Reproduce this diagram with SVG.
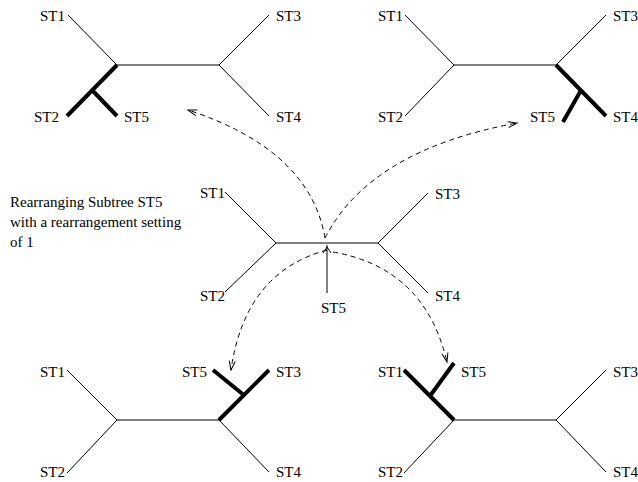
<svg xmlns="http://www.w3.org/2000/svg" width="638" height="482" viewBox="0 0 638 482">
<style>
text{font-family:"Liberation Serif","Times New Roman",serif;font-size:15px;fill:#000}
.t{stroke:#000;stroke-width:1;fill:none}
.k{stroke:#000;stroke-width:4;fill:none}
.d{stroke:#000;stroke-width:1;fill:none;stroke-dasharray:5 4}
</style>
<defs>
<marker id="ah" markerUnits="userSpaceOnUse" markerWidth="12" markerHeight="10" viewBox="-10 -5 12 10" refX="0" refY="0" orient="auto">
<path d="M-9,-3 L0,0 L-9,3" fill="none" stroke="#000" stroke-width="1"/>
</marker>
</defs>
<rect width="638" height="482" fill="#fff"/>
<g id="caption">
<text x="10" y="207">Rearranging Subtree ST5</text>
<text x="10" y="227">with a rearrangement setting</text>
<text x="10" y="247">of 1</text>
</g>
<g id="tree-top-left">
<path class="t" d="M68,15 L117,65 L219,65 L269,15 M219,65 L269,116"/>
<path class="k" d="M117,65 L67,116 M92,90 L117,116"/>
<text x="40" y="21">ST1</text>
<text x="34" y="122">ST2</text>
<text x="124" y="122">ST5</text>
<text x="276" y="21">ST3</text>
<text x="276" y="122">ST4</text>
</g>
<g id="tree-top-right">
<path class="t" d="M405,15 L454,65 L405,116 M454,65 L556,65 L606,15"/>
<path class="k" d="M556,65 L606,116 M580,92 L563,122"/>
<text x="378" y="21">ST1</text>
<text x="378" y="122">ST2</text>
<text x="530" y="122">ST5</text>
<text x="613" y="21">ST3</text>
<text x="613" y="122">ST4</text>
</g>
<g id="tree-middle">
<path class="t" d="M225,192 L276,243 L225,292 M276,243 L378,243 L428,193 M378,243 L428,293 M327,245 L327,293"/>
<path class="t" d="M323,253 L327,247 L331,253"/>
<text x="200" y="198">ST1</text>
<text x="200" y="301">ST2</text>
<text x="435" y="199">ST3</text>
<text x="435" y="301">ST4</text>
<text x="321" y="313">ST5</text>
</g>
<g id="tree-bottom-left">
<path class="t" d="M67,370 L117,420 L67,473 M117,420 L219,420 L269,472"/>
<path class="k" d="M219,420 L269,370 M245,396 L213,370"/>
<text x="40" y="377">ST1</text>
<text x="40" y="477">ST2</text>
<text x="182" y="377">ST5</text>
<text x="276" y="377">ST3</text>
<text x="276" y="477">ST4</text>
</g>
<g id="tree-bottom-right">
<path class="t" d="M454,420 L404,473 M454,420 L556,420 L606,370 M556,420 L606,472"/>
<path class="k" d="M404,370 L454,420 M430,396 L454,363"/>
<text x="378" y="377">ST1</text>
<text x="378" y="477">ST2</text>
<text x="461" y="377">ST5</text>
<text x="613" y="377">ST3</text>
<text x="613" y="477">ST4</text>
</g>
<g id="connectors">
<path class="d" d="M325,238 Q310,150 188,110" marker-end="url(#ah)"/>
<path class="d" d="M325,238 Q370,150 517,123" marker-end="url(#ah)"/>
<path class="d" d="M327,250 Q245,272 231,370" marker-end="url(#ah)"/>
<path class="d" d="M333,252 Q425,268 447,362" marker-end="url(#ah)"/>
</g>
</svg>
